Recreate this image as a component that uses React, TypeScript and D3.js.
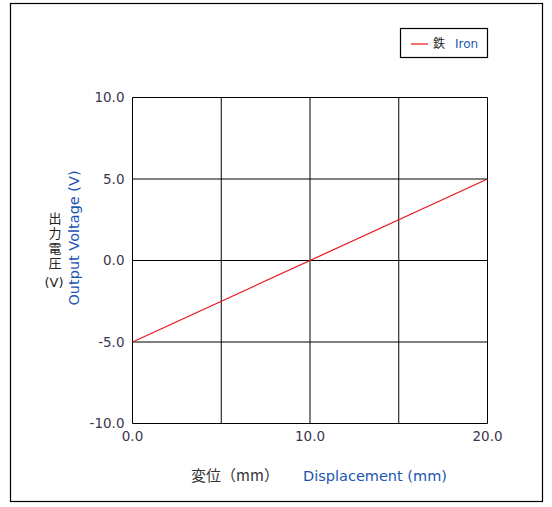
import React from "react";
import * as d3 from "d3";

const xTicks = [0, 5, 10, 15, 20];
const xTickLabels = ["0.0", "", "10.0", "", "20.0"];
const yTicks = [-10, -5, 0, 5, 10];
const yTickLabels = ["-10.0", "-5.0", "0.0", "5.0", "10.0"];
const ironX = [0, 20];
const ironY = [-5, 5];
const seriesName = "鉄";
const seriesNameEn = "Iron";
const yTitleJa = "出力電圧";
const yTitleUnit = "(V)";

const W = 552;
const H = 507;
const plot = { left: 132.5, right: 487.5, top: 97.5, bottom: 423.5 };
const latin = "'DejaVu Sans', 'Noto Sans', sans-serif";
const cjk = "'Noto Sans CJK JP', sans-serif";
const tickColor = "#3d3650";
const blue = "#1a55b0";

export default function App() {
  const x = d3.scaleLinear().domain([0, 20]).range([plot.left, plot.right]);
  const y = d3.scaleLinear().domain([-10, 10]).range([plot.bottom, plot.top]);
  const pts: [number, number][] = ironX.map((v, i) => [v, ironY[i]]);
  const line = d3
    .line<[number, number]>()
    .x((d) => x(d[0]))
    .y((d) => y(d[1]));

  return (
    <svg
      width={W}
      height={H}
      style={{ position: "absolute", left: 0, top: 0 }}
      fontFamily={latin}
    >
      <rect x={0} y={0} width={W} height={H} fill="#fff" />
      <rect x={10.5} y={3.5} width={532} height={498} fill="none" stroke="#000" strokeWidth={1.2} />
      {xTicks.map((t) => (
        <line key={"gx" + t} x1={x(t)} x2={x(t)} y1={plot.top} y2={plot.bottom} stroke="#000" strokeWidth={1} />
      ))}
      {yTicks.map((t) => (
        <line key={"gy" + t} x1={plot.left} x2={plot.right} y1={y(t)} y2={y(t)} stroke="#000" strokeWidth={1} />
      ))}
      {yTicks.map((t, i) => (
        <text key={"ly" + t} x={plot.left - 8} y={y(t)} dy="0.35em" textAnchor="end" fontSize={13.5} fill={tickColor}>
          {yTickLabels[i]}
        </text>
      ))}
      {xTicks.map((t, i) =>
        xTickLabels[i] ? (
          <text key={"lx" + t} x={x(t)} y={plot.bottom + 13} dy="0.35em" textAnchor="middle" fontSize={13.5} fill={tickColor}>
            {xTickLabels[i]}
          </text>
        ) : null
      )}
      <path d={line(pts) || ""} fill="none" stroke="#e8141c" strokeWidth={1.2} />
      <rect x={400.5} y={28.5} width={87} height={29} fill="#fff" stroke="#000" strokeWidth={1.2} />
      <line x1={411} x2={428} y1={44} y2={44} stroke="#e8141c" strokeWidth={1.2} />
      <text x={433} y={44} dy="0.35em" fontSize={12} fill="#222" fontFamily={cjk}>{seriesName}</text>
      <text x={455} y={44} dy="0.35em" fontSize={12} fill={blue}>{seriesNameEn}</text>
      <text x={235} y={476} dy="0.35em" textAnchor="middle" fontSize={15} fill="#333" fontFamily={cjk}>変位（mm）</text>
      <text x={375} y={476} dy="0.35em" textAnchor="middle" fontSize={14.5} fill={blue}>Displacement (mm)</text>
      <text
        x={55}
        y={211.5}
        fontSize={13}
        fill="#222"
        fontFamily={cjk}
        style={{ writingMode: "vertical-rl", textOrientation: "upright", letterSpacing: "2px" }}
      >
        {yTitleJa}
      </text>
      <text x={54} y={282} dy="0.35em" textAnchor="middle" fontSize={13} fill="#222">{yTitleUnit}</text>
      <text
        transform={`translate(74, 238) rotate(-90)`}
        textAnchor="middle"
        dy="0.35em"
        fontSize={14.5}
        fill={blue}
      >
        Output Voltage (V)
      </text>
    </svg>
  );
}
